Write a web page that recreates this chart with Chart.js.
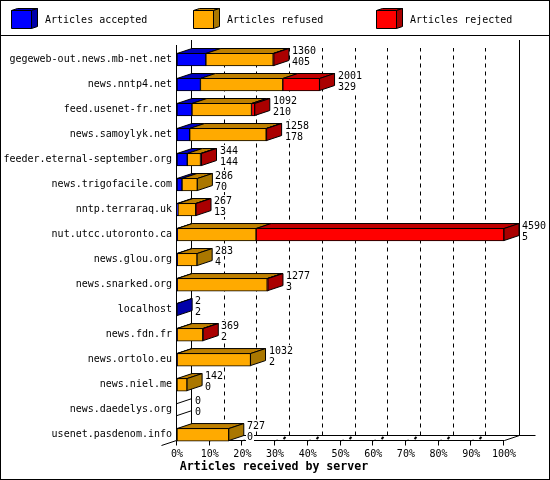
<!DOCTYPE html>
<html>
<head>
<meta charset="utf-8">
<style>html,body{margin:0;padding:0;background:#fff}canvas{display:block}</style>
<script src="https://cdn.jsdelivr.net/npm/chart.js@4/dist/chart.umd.min.js"></script>
</head>
<body>
<canvas id="c" width="550" height="480"></canvas>
<script>
const servers = ["gegeweb-out.news.mb-net.net","news.nntp4.net","feed.usenet-fr.net","news.samoylyk.net","feeder.eternal-september.org","news.trigofacile.com","nntp.terraraq.uk","nut.utcc.utoronto.ca","news.glou.org","news.snarked.org","localhost","news.fdn.fr","news.ortolo.eu","news.niel.me","news.daedelys.org","usenet.pasdenom.info"];
const accepted = [405,329,210,178,144,70,13,5,4,3,2,2,2,0,0,0];
const refused = [945,1156,836,1074,186,216,251,1105,279,1263,0,360,1030,142,0,727];
const rejected = [10,516,46,6,14,0,3,3480,0,11,0,7,0,0,0,0];
const totals = [1360,2001,1092,1258,344,286,267,4590,283,1277,2,369,1032,142,0,727];
const seriesNames = ["Articles accepted","Articles refused","Articles rejected"];
const frontColors = ["#0000ff","#ffaa00","#ff0000"];
const topColors = ["#0000bf","#bf8000","#bf0000"];
const sideColors = ["#0000aa","#aa7700","#aa0000"];
const axisMax = 4590;
const legendX = [11,193,376];

const FONT = '10px "DejaVu Sans Mono"';
const DX = 15, DY = 5;

function poly(ctx, pts, fill){
  ctx.beginPath();
  pts.forEach((p,i)=> i ? ctx.lineTo(p[0],p[1]) : ctx.moveTo(p[0],p[1]));
  ctx.closePath();
  if(fill){ctx.fillStyle=fill;ctx.fill();}
  ctx.stroke();
}
function seg(ctx,x1,y1,x2,y2){ctx.beginPath();ctx.moveTo(x1,y1);ctx.lineTo(x2,y2);ctx.stroke();}

const scene = {
  id:'scene',
  afterLayout(chart){
    chart.titleBlock.left=-2;chart.titleBlock.right=550;
  },
  beforeDraw(chart){
    const ctx=chart.ctx;
    ctx.save();
    ctx.fillStyle='#fff';ctx.fillRect(0,0,550,480);
    ctx.restore();
  },
  beforeDatasetsDraw(chart){
    const ctx=chart.ctx, xs=chart.scales.x, ys=chart.scales.y;
    const x0=xs.getPixelForValue(0), x1=xs.getPixelForValue(axisMax);
    const floor=ys.getPixelForValue(servers.length-1)+6.5;
    const L=Math.round(x0)-0.5, R=Math.round(x1)+0.5, F=Math.round(floor)-0.5, B=F-DY, T=40;
    ctx.save();
    ctx.strokeStyle='#000';ctx.lineWidth=1;
    ctx.setLineDash([4,4]);
    xs.ticks.forEach(t=>{
      if(t.value<=0||t.value>=axisMax) return;
      const x=Math.round(xs.getPixelForValue(t.value))+DX-0.5;
      seg(ctx,x,B,x,48);
    });
    ctx.setLineDash([]);
    seg(ctx,L,45,L,F);
    seg(ctx,L+DX,T,L+DX,B);
    seg(ctx,R+DX,T,R+DX,B);
    seg(ctx,L+DX,B,R+DX+16,B);
    seg(ctx,L,F,R,F);
    seg(ctx,L,F,L-DX,F+DY);
    seg(ctx,R,F,R+DX,B);
    xs.ticks.forEach(t=>{
      const x=Math.round(xs.getPixelForValue(t.value))-0.5;
      seg(ctx,x,F,x,F+5);
      if(t.value>0&&t.value<axisMax){
        seg(ctx,x,F+0.5,x+3,F-0.5);
        ctx.lineWidth=2;
        seg(ctx,x+9,F-1.5,x+11,F-3.5);
        ctx.lineWidth=1;
      }
    });
    ctx.restore();
  },
  afterDatasetsDraw(chart){
    const ctx=chart.ctx, xs=chart.scales.x;
    ctx.save();
    ctx.strokeStyle='#000';ctx.lineWidth=1;ctx.lineJoin='miter';
    servers.forEach((name,i)=>{
      let last=-1, right=null, top=0, bottom=0;
      chart.data.datasets.forEach((ds,d)=>{
        const el=chart.getDatasetMeta(d).data[i];
        const h=el.height, yT=el.y-h/2+0.5, yB=el.y+h/2-0.5;
        top=yT;bottom=yB;
        if(ds.data[i]>0){
          last=d;
          const a=el.base, b=el.x;
          right=b;
          poly(ctx,[[a,yT],[b,yT],[b+DX,yT-DY],[a+DX,yT-DY]],topColors[d]);
        }
      });
      const e=(right===null?xs.getPixelForValue(0):right);
      if(last>=0){
        poly(ctx,[[e,top],[e+DX,top-DY],[e+DX,bottom-DY],[e,bottom]],sideColors[last]);
      }else{
        seg(ctx,e,top,e+DX,top-DY);
        seg(ctx,e,bottom,e+DX,bottom-DY);
      }
      const cy=(top+bottom)/2, tx=Math.round(e)+DX+3;
      ctx.font=FONT;ctx.textAlign='left';ctx.textBaseline='middle';
      [[String(totals[i]),cy-9],[String(accepted[i]),cy+2]].forEach(([s,y])=>{
        ctx.fillStyle='#fff';
        ctx.fillRect(tx-1,y-5.5,ctx.measureText(s).width+2,11);
        ctx.fillStyle='#000';
        ctx.fillText(s,tx,y+0.5);
      });
    });
    ctx.restore();
  },
  afterDraw(chart){
    const ctx=chart.ctx;
    ctx.save();
    ctx.strokeStyle='#000';ctx.lineWidth=1;
    ctx.strokeRect(0.5,0.5,549,479);
    seg(ctx,0,35.5,550,35.5);
    ctx.font=FONT;ctx.textBaseline='middle';ctx.textAlign='left';
    chart.data.datasets.forEach((ds,d)=>{
      const x=legendX[d]+0.5;
      poly(ctx,[[x,10.5],[x+20,10.5],[x+26,8.5],[x+6,8.5]],topColors[d]);
      poly(ctx,[[x+20,10.5],[x+26,8.5],[x+26,26.5],[x+20,28.5]],sideColors[d]);
      poly(ctx,[[x,10.5],[x+20,10.5],[x+20,28.5],[x,28.5]],frontColors[d]);
      ctx.fillStyle='#000';
      ctx.fillText(ds.label,legendX[d]+34,20.5);
    });
    ctx.restore();
  }
};

new Chart(document.getElementById('c'),{
  type:'bar',
  data:{
    labels:servers,
    datasets:[accepted,refused,rejected].map((v,d)=>({
      label:seriesNames[d],data:v,backgroundColor:frontColors[d],
      borderColor:'#000',borderWidth:1,borderSkipped:false,barThickness:13
    }))
  },
  options:{
    indexAxis:'y',responsive:false,animation:false,devicePixelRatio:1,
    layout:{padding:{left:0,right:46,top:47,bottom:0}},
    plugins:{
      legend:{display:false},tooltip:{enabled:false},
      title:{display:true,position:'bottom',text:'Articles received by server',color:'#000',
        font:{family:'"DejaVu Sans Mono"',size:11.6,weight:'bold',lineHeight:1.2},padding:{top:0,bottom:6}}
    },
    scales:{
      x:{type:'linear',stacked:true,min:0,max:axisMax,
        grid:{display:false,drawTicks:false},border:{display:false},
        afterFit(s){s.height=13;},
        ticks:{stepSize:axisMax/10,color:'#000',maxRotation:0,autoSkip:false,padding:1,
          font:{family:'"DejaVu Sans Mono"',size:10,lineHeight:1.2},
          callback:v=>Math.round(v/axisMax*100)+'%'}},
      y:{type:'category',stacked:true,
        grid:{display:false,drawTicks:false},border:{display:false},
        afterFit(s){s.width=177;},
        ticks:{color:'#000',autoSkip:false,padding:5,
          font:{family:'"DejaVu Sans Mono"',size:10}}}
    }
  },
  plugins:[scene]
});
</script>
</body>
</html>
